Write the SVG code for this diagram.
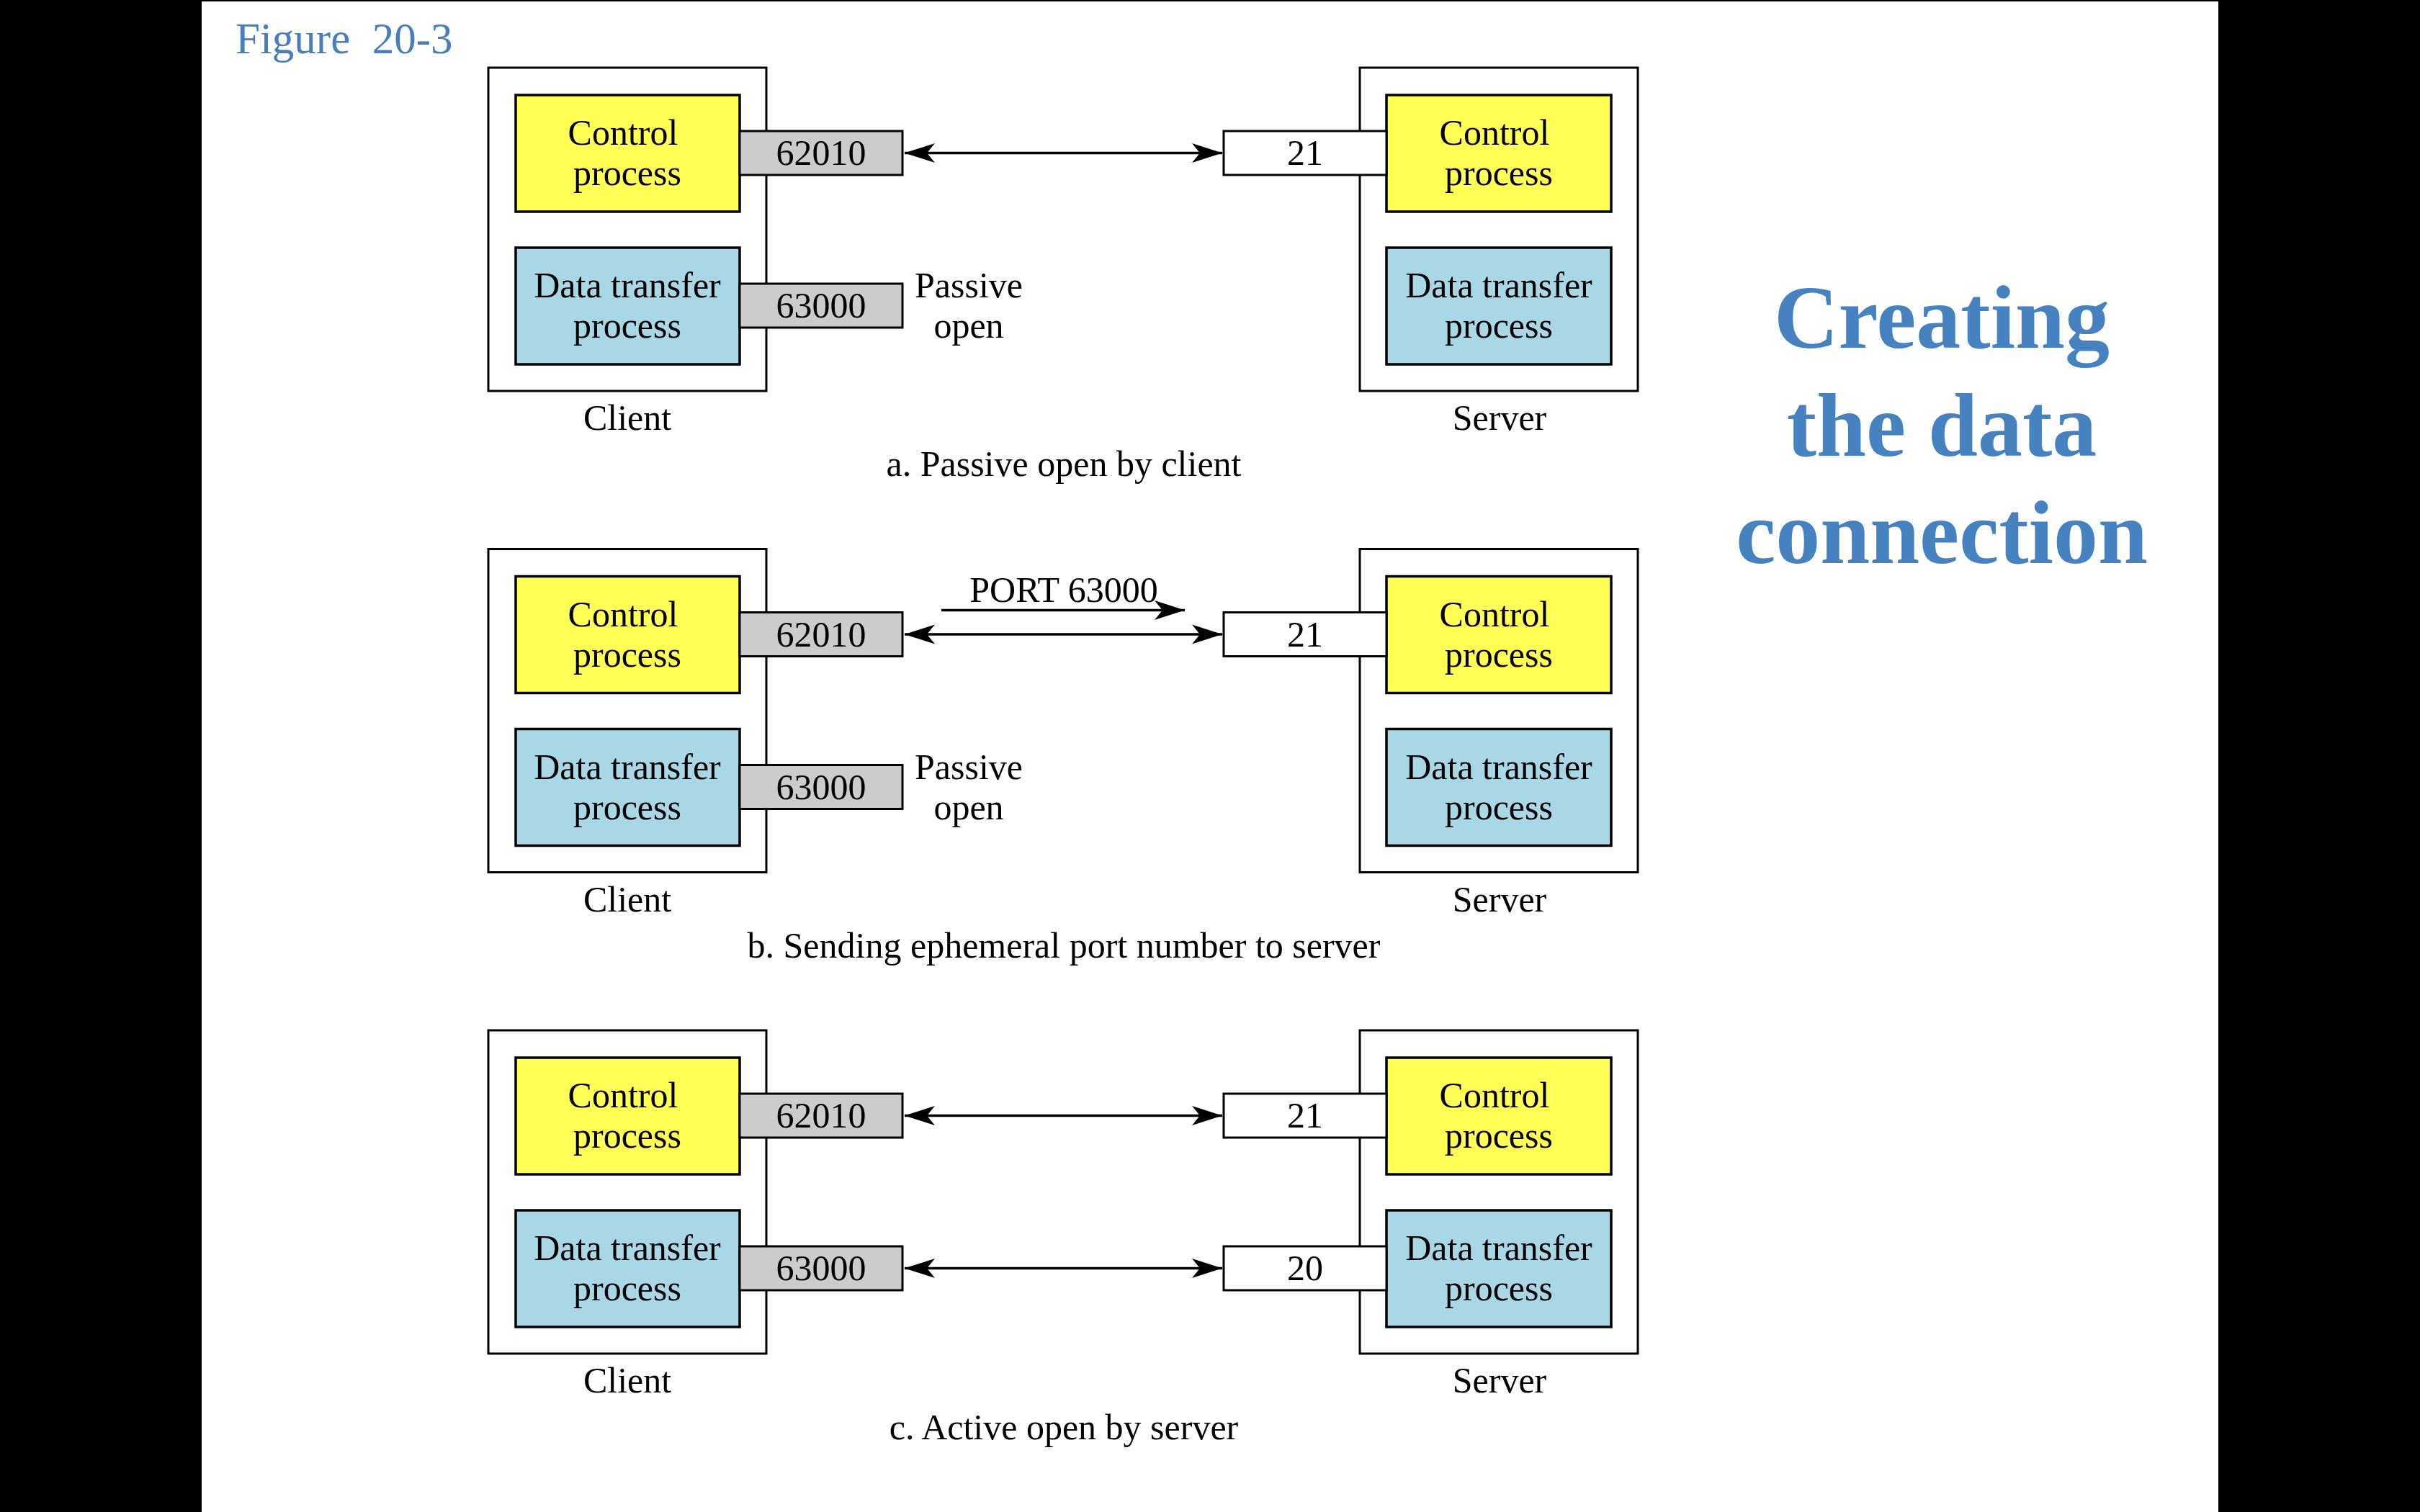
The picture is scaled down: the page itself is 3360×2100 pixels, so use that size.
<svg xmlns="http://www.w3.org/2000/svg" width="3360" height="2100" viewBox="0 0 3360 2100">
<style>
text{font-family:"Liberation Serif","Times New Roman",serif;fill:#000}
.t{font-size:50px;text-anchor:middle}
.outer{fill:#fff;stroke:#000;stroke-width:3}
.ctl{fill:#ffff55;stroke:#000;stroke-width:3.5}
.dat{fill:#aad7e6;stroke:#000;stroke-width:3.5}
.pc{fill:#cccccc;stroke:#000;stroke-width:3}
.ps{fill:#fff;stroke:#000;stroke-width:3}
.conn{stroke:#000;stroke-width:3.5;fill:none}
.title{font-size:124px;font-weight:bold;text-anchor:middle;fill:#4682c0}
</style>
<defs>
<marker id="ah" viewBox="-44 -15 46 30" refX="0" refY="0" markerWidth="46" markerHeight="30" markerUnits="userSpaceOnUse" orient="auto-start-reverse">
<path d="M0,0 L-42,-13.5 L-31,0 L-42,13.5 Z" fill="#000"/>
</marker>
</defs>
<rect x="0" y="0" width="3360" height="2100" fill="#000"/>
<rect x="280" y="2" width="2800" height="2098" fill="#fff"/>
<text x="327" y="74" xml:space="preserve" style="font-size:61px;fill:#4a7ebb;white-space:pre">Figure  20-3</text>
<g id="title">
<text class="title" x="2696" y="483">Creating</text>
<text class="title" x="2696" y="633">the data</text>
<text class="title" x="2696" y="782">connection</text>
</g>

<!-- Section a -->
<g id="a-client"><rect class="outer" x="678" y="94" width="386" height="449"/><text class="t" x="871" y="597">Client</text></g>
<g id="a-client-control"><rect class="ctl" x="716" y="132" width="311" height="162"/><text class="t" x="865" y="201">Control</text><text class="t" x="871" y="257">process</text></g>
<g id="a-client-data"><rect class="dat" x="716" y="344" width="311" height="162"/><text class="t" x="871" y="413">Data transfer</text><text class="t" x="871" y="469">process</text></g>
<g id="a-port-62010"><rect class="pc" x="1027" y="182" width="226" height="61"/><text class="t" x="1140" y="229">62010</text></g>
<g id="a-port-63000"><rect class="pc" x="1027" y="394" width="226" height="61"/><text class="t" x="1140" y="441">63000</text></g>
<g id="a-server"><rect class="outer" x="1888" y="94" width="386" height="449"/><text class="t" x="2082" y="597">Server</text></g>
<g id="a-server-control"><rect class="ctl" x="1925" y="132" width="312" height="162"/><text class="t" x="2075" y="201">Control</text><text class="t" x="2081" y="257">process</text></g>
<g id="a-server-data"><rect class="dat" x="1925" y="344" width="312" height="162"/><text class="t" x="2081" y="413">Data transfer</text><text class="t" x="2081" y="469">process</text></g>
<g id="a-port-21"><rect class="ps" x="1699" y="182" width="226" height="61"/><text class="t" x="1812" y="229">21</text></g>
<g id="a-labels"><text class="t" x="1345" y="413">Passive</text><text class="t" x="1345" y="469">open</text><text class="t" x="1477" y="661">a. Passive open by client</text></g>

<!-- Section b -->
<g id="b-client"><rect class="outer" x="678" y="762.5" width="386" height="449"/><text class="t" x="871" y="1265.5">Client</text></g>
<g id="b-client-control"><rect class="ctl" x="716" y="800.5" width="311" height="162"/><text class="t" x="865" y="869.5">Control</text><text class="t" x="871" y="925.5">process</text></g>
<g id="b-client-data"><rect class="dat" x="716" y="1012.5" width="311" height="162"/><text class="t" x="871" y="1081.5">Data transfer</text><text class="t" x="871" y="1137.5">process</text></g>
<g id="b-port-62010"><rect class="pc" x="1027" y="850.5" width="226" height="61"/><text class="t" x="1140" y="897.5">62010</text></g>
<g id="b-port-63000"><rect class="pc" x="1027" y="1062.5" width="226" height="61"/><text class="t" x="1140" y="1109.5">63000</text></g>
<g id="b-server"><rect class="outer" x="1888" y="762.5" width="386" height="449"/><text class="t" x="2082" y="1265.5">Server</text></g>
<g id="b-server-control"><rect class="ctl" x="1925" y="800.5" width="312" height="162"/><text class="t" x="2075" y="869.5">Control</text><text class="t" x="2081" y="925.5">process</text></g>
<g id="b-server-data"><rect class="dat" x="1925" y="1012.5" width="312" height="162"/><text class="t" x="2081" y="1081.5">Data transfer</text><text class="t" x="2081" y="1137.5">process</text></g>
<g id="b-port-21"><rect class="ps" x="1699" y="850.5" width="226" height="61"/><text class="t" x="1812" y="897.5">21</text></g>
<g id="b-labels"><text class="t" x="1345" y="1081.5">Passive</text><text class="t" x="1345" y="1137.5">open</text><text class="t" x="1477" y="836">PORT 63000</text><text class="t" x="1477" y="1330">b. Sending ephemeral port number to server</text></g>

<!-- Section c -->
<g id="c-client"><rect class="outer" x="678" y="1431" width="386" height="449"/><text class="t" x="871" y="1934">Client</text></g>
<g id="c-client-control"><rect class="ctl" x="716" y="1469" width="311" height="162"/><text class="t" x="865" y="1538">Control</text><text class="t" x="871" y="1594">process</text></g>
<g id="c-client-data"><rect class="dat" x="716" y="1681" width="311" height="162"/><text class="t" x="871" y="1750">Data transfer</text><text class="t" x="871" y="1806">process</text></g>
<g id="c-port-62010"><rect class="pc" x="1027" y="1519" width="226" height="61"/><text class="t" x="1140" y="1566">62010</text></g>
<g id="c-port-63000"><rect class="pc" x="1027" y="1731" width="226" height="61"/><text class="t" x="1140" y="1778">63000</text></g>
<g id="c-server"><rect class="outer" x="1888" y="1431" width="386" height="449"/><text class="t" x="2082" y="1934">Server</text></g>
<g id="c-server-control"><rect class="ctl" x="1925" y="1469" width="312" height="162"/><text class="t" x="2075" y="1538">Control</text><text class="t" x="2081" y="1594">process</text></g>
<g id="c-server-data"><rect class="dat" x="1925" y="1681" width="312" height="162"/><text class="t" x="2081" y="1750">Data transfer</text><text class="t" x="2081" y="1806">process</text></g>
<g id="c-port-21"><rect class="ps" x="1699" y="1519" width="226" height="61"/><text class="t" x="1812" y="1566">21</text></g>
<g id="c-port-20"><rect class="ps" x="1699" y="1731" width="226" height="61"/><text class="t" x="1812" y="1778">20</text></g>
<g id="c-labels"><text class="t" x="1477" y="1999">c. Active open by server</text></g>

<g id="connectors">
<line class="conn" x1="1256" y1="212.5" x2="1697" y2="212.5" marker-start="url(#ah)" marker-end="url(#ah)"/>
<line class="conn" x1="1256" y1="881" x2="1697" y2="881" marker-start="url(#ah)" marker-end="url(#ah)"/>
<line class="conn" x1="1307" y1="847.5" x2="1645" y2="847.5" marker-end="url(#ah)"/>
<line class="conn" x1="1256" y1="1549.5" x2="1697" y2="1549.5" marker-start="url(#ah)" marker-end="url(#ah)"/>
<line class="conn" x1="1256" y1="1761.5" x2="1697" y2="1761.5" marker-start="url(#ah)" marker-end="url(#ah)"/>
</g>
</svg>
